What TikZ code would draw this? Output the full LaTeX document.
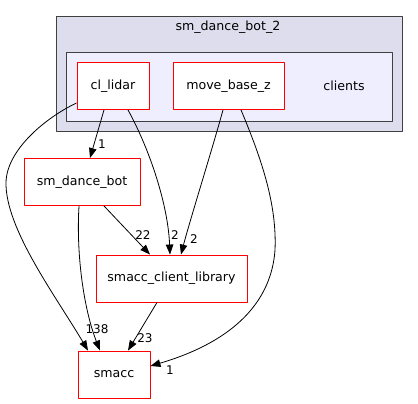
\documentclass[tikz,border=0pt]{standalone}
\usepackage{fontspec}
\setmainfont{DejaVu Sans}
\usetikzlibrary{arrows.meta}
\begin{document}
\begin{tikzpicture}[x=1pt, y=-1pt, line join=round, font=\fontsize{12.6}{15}\selectfont, >={Triangle[length=10pt,width=7.5pt]}]
			\tikzset{dir/.style={draw=red, fill=white, line width=0.9pt, inner sep=0pt, minimum height=47pt},
				dep/.style={->, line width=0.8pt, black},
				num/.style={inner sep=0pt, font=\fontsize{12}{14}\selectfont}}
			\useasboundingbox (0,0) rectangle (418,404);
			% sm_dance_bot_2 and its clients folder
			\draw[fill={rgb,255:red,221;green,221;blue,238}, draw=black!75, line width=0.9pt] (56,16) rectangle (402,131);
			\node (top) at (228,27) {sm\_dance\_bot\_2};
			\draw[fill={rgb,255:red,238;green,238;blue,255}, draw=black!75, line width=0.9pt] (66,52) rectangle (392,121);
			\node (clients) at (344,86) {clients};
			\node[dir, minimum width=72pt] (lidar) at (113,86) {cl\_lidar};
			\node[dir, minimum width=111pt] (move) at (228.5,86) {move\_base\_z};
			% the other folders
			\node[dir, minimum width=116pt] (dance) at (82,182) {sm\_dance\_bot};
			\node[dir, minimum width=151pt] (lib) at (171.5,278.5) {smacc\_client\_library};
			\node[dir, minimum width=72pt] (smacc) at (114,374.5) {smacc};
			% dependencies
			\draw[dep] ([xshift=-9pt]lidar.south) -- ([xshift=8pt]dance.north);
			\draw[dep] ([xshift=15pt]lidar.south) .. controls (150,150) and (168,205) .. ([xshift=-1.5pt]lib.north);
			\draw[dep] ([yshift=7pt]lidar.south west) .. controls (45,118) and (7,150) .. (6,182) .. controls (5,228) and (55,295) .. ([xshift=-26pt]smacc.north);
			\draw[dep] ([xshift=-5.5pt]move.south) .. controls (212,150) and (190,220) .. ([xshift=9.5pt]lib.north);
			\draw[dep] ([xshift=12.5pt]move.south) .. controls (262,160) and (277,205) .. (275,250) .. controls (270,320) and (205,350) .. ([yshift=8.5pt]smacc.east);
			\draw[dep] ([xshift=22pt]dance.south) -- ([xshift=-21.5pt]lib.north);
			\draw[dep] ([xshift=-3pt]dance.south) .. controls (76,255) and (84,310) .. ([xshift=-14pt]smacc.north);
			\draw[dep] ([xshift=-14.5pt]lib.south) -- ([xshift=14pt]smacc.north);
			% counts
			\node[num] (n1) at (102,144) {1};
			\node[num] (n2) at (175,235) {2};
			\node[num] (n3) at (194,239) {2};
			\node[num] (n4) at (143,235) {22};
			\node[num] (n5) at (97,329) {138};
			\node[num] (n6) at (145,338) {23};
			\node[num] (n7) at (170,370) {1};
		\end{tikzpicture}
\end{document}
